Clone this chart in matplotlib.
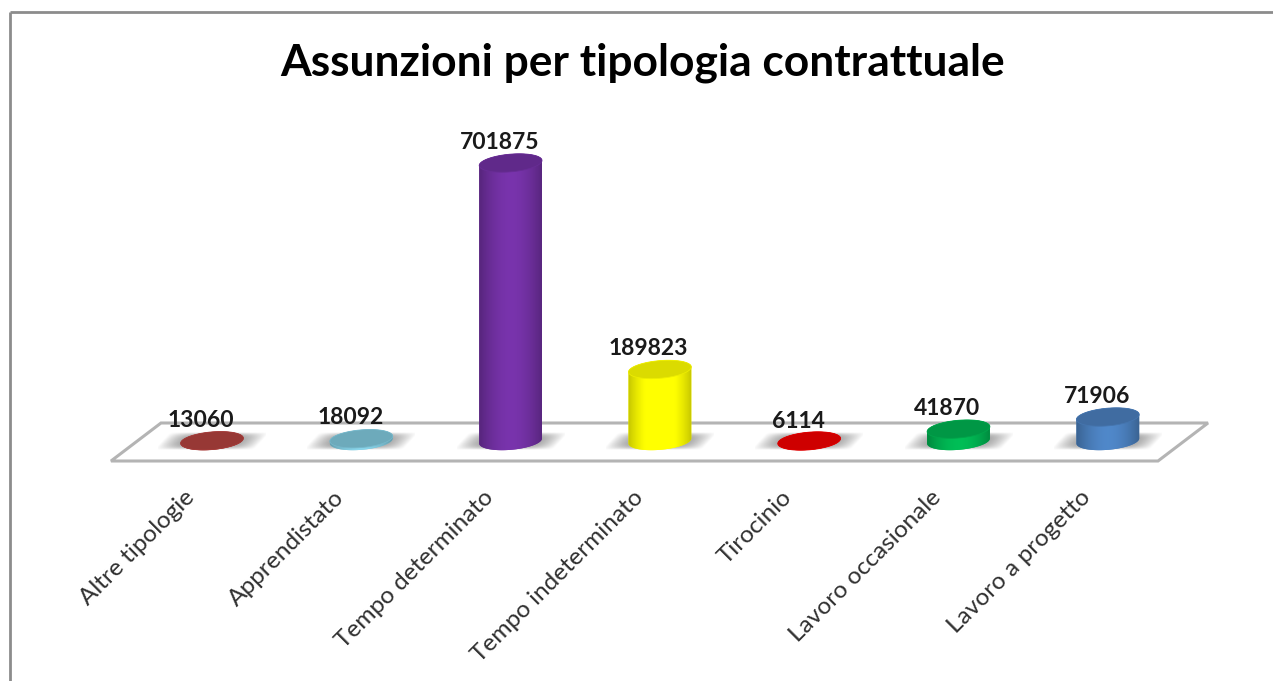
import numpy as np
import matplotlib
matplotlib.use("Agg")
import matplotlib.pyplot as plt
from matplotlib.colors import to_rgb
from matplotlib.patches import PathPatch, Polygon
from matplotlib.path import Path

categories = ["Altre tipologie", "Apprendistato", "Tempo determinato",
              "Tempo indeterminato", "Tirocinio", "Lavoro occasionale",
              "Lavoro a progetto"]
values = [13060, 18092, 701875, 189823, 6114, 41870, 71906]
colors = ["#B0413E", "#7FC6DA", "#7030A0", "#FFFF00", "#F00000", "#00B050", "#4A7EBB"]
label_lift = [20, 21, 20, 21, 22, 21, 21]

W, H = 1273, 681
plt.rcParams["font.family"] = ["Lato", "DejaVu Sans"]
fig = plt.figure(figsize=(W / 100, H / 100), dpi=100, facecolor="white")
ax = fig.add_axes([0, 0, 1, 1])

X0, DX = 212.0, 149.3   # pixel of first category, pixels per category
Y0 = 446.0              # pixel of the zero line
UNITS = 2480.0          # value units per pixel
BASE = 5 * UNITS        # cylinders stand on the floor, slightly above zero
XLIM = (-X0 / DX, (W - X0) / DX)
YLIM = (-(H - Y0) * UNITS, Y0 * UNITS)
dx = 1 / DX
dy = UNITS


def ell(cx, vy, a=31.5, b=8.8, tilt=np.radians(-5), n=180):
    """Tilted ellipse centred on data (cx, vy), size in pixels; returns data coords."""
    t = np.linspace(0, 2 * np.pi, n, endpoint=False)
    px = a * np.cos(t) * np.cos(tilt) - b * np.sin(t) * np.sin(tilt)
    py = a * np.cos(t) * np.sin(tilt) + b * np.sin(t) * np.cos(tilt)
    return cx + px * dx, vy - py * dy   # image y grows downward


def shade(col, f):
    c = np.array(to_rgb(col))
    return np.clip(c * f, 0, 1)


# border of the chart area
ax.plot([10 * dx + XLIM[0], 10 * dx + XLIM[0]], [YLIM[0], (Y0 - 12) * dy], color="#8C8C8C", lw=2, solid_capstyle="butt")
ax.plot([10 * dx + XLIM[0], XLIM[1]], [(Y0 - 12) * dy] * 2, color="#8C8C8C", lw=2, solid_capstyle="butt")

# floor
floor_px = np.array([(111, 461), (1158, 461), (1208, 423), (161, 423)], float)
floor = np.column_stack([XLIM[0] + floor_px[:, 0] * dx, (Y0 - floor_px[:, 1]) * dy])
ax.add_patch(Polygon(floor, closed=True, facecolor="white", edgecolor="#B4B4B4", lw=2.2, zorder=1))

xs = np.arange(len(categories))

# soft sheared shadows on the floor
for x in xs:
    u = np.linspace(-1, 1, 160)
    w = np.linspace(-1, 1, 40)
    U, V = np.meshgrid(u, w)
    alpha = np.clip(1 - np.abs(U * 1.08 - 0.16 * V) ** 2.5, 0, 1) * np.clip(1 - np.abs(V) ** 3, 0, 1) * 0.72
    rgba = np.zeros((*alpha.shape, 4))
    rgba[..., :3] = 0.38
    rgba[..., 3] = alpha
    ax.imshow(rgba, extent=(x - 54 * dx, x + 54 * dx, BASE - 9 * dy, BASE + 9 * dy), aspect="auto",
              origin="lower", zorder=2, interpolation="bilinear")

# cylinders
for x, v, c in zip(xs, values, colors):
    top = max(v, BASE)
    bx, by = ell(x, BASE)
    tx, ty = ell(x, top)
    n = len(bx)
    il, ir = int(np.argmin(bx)), int(np.argmax(bx))
    arc1 = [(il + k) % n for k in range(((ir - il) % n) + 1)]
    arc2 = [(ir + k) % n for k in range(((il - ir) % n) + 1)]
    lower_arc = arc1 if by[arc1[len(arc1) // 2]] < BASE else arc2[::-1]
    upper_arc = arc2 if lower_arc is arc1 else arc1[::-1]
    lower = np.column_stack([bx[lower_arc], by[lower_arc]])
    upper = np.column_stack([tx[upper_arc], ty[upper_arc]])
    verts = np.vstack([lower, upper, lower[:1]])
    patch = PathPatch(Path(verts, closed=True), facecolor=c, edgecolor="none", zorder=3)
    ax.add_patch(patch)
    u = np.linspace(-1, 1, 80)
    f = 0.76 + 0.32 * (1 - np.abs(u) ** 1.8)
    grad = np.stack([shade(c, k) for k in f])[None, :, :]
    im = ax.imshow(grad, extent=(x - 33 * dx, x + 33 * dx, BASE - 12 * dy, top + 12 * dy),
                   aspect="auto", zorder=3.1, interpolation="bilinear")
    im.set_clip_path(patch)
    ax.fill(tx, ty, facecolor=shade(c, 0.86), edgecolor=shade(c, 0.93), lw=0.6, zorder=3.2)

# value labels
for x, v, lift in zip(xs, values, label_lift):
    ax.annotate(str(v), (x, v), xytext=(-8, lift * 0.72), textcoords="offset points",
                ha="center", va="center", fontsize=16.5, fontweight="bold",
                color="#1A1A1A", zorder=5)

# category labels
for x, name in zip(xs, categories):
    ax.annotate(name, (x, BASE), xytext=(-20, -33), textcoords="offset points",
                rotation=45, rotation_mode="anchor", ha="right", va="top",
                fontsize=17.6, color="#303030", zorder=5)

ax.text(0.505, 1 - 63 / H, "Assunzioni per tipologia contrattuale", transform=ax.transAxes,
        ha="center", va="center", fontsize=31.9, fontweight="bold", color="black")

ax.set_xlim(*XLIM)
ax.set_ylim(*YLIM)
ax.axis("off")
fig.savefig("out.png", dpi=100, facecolor="white")
